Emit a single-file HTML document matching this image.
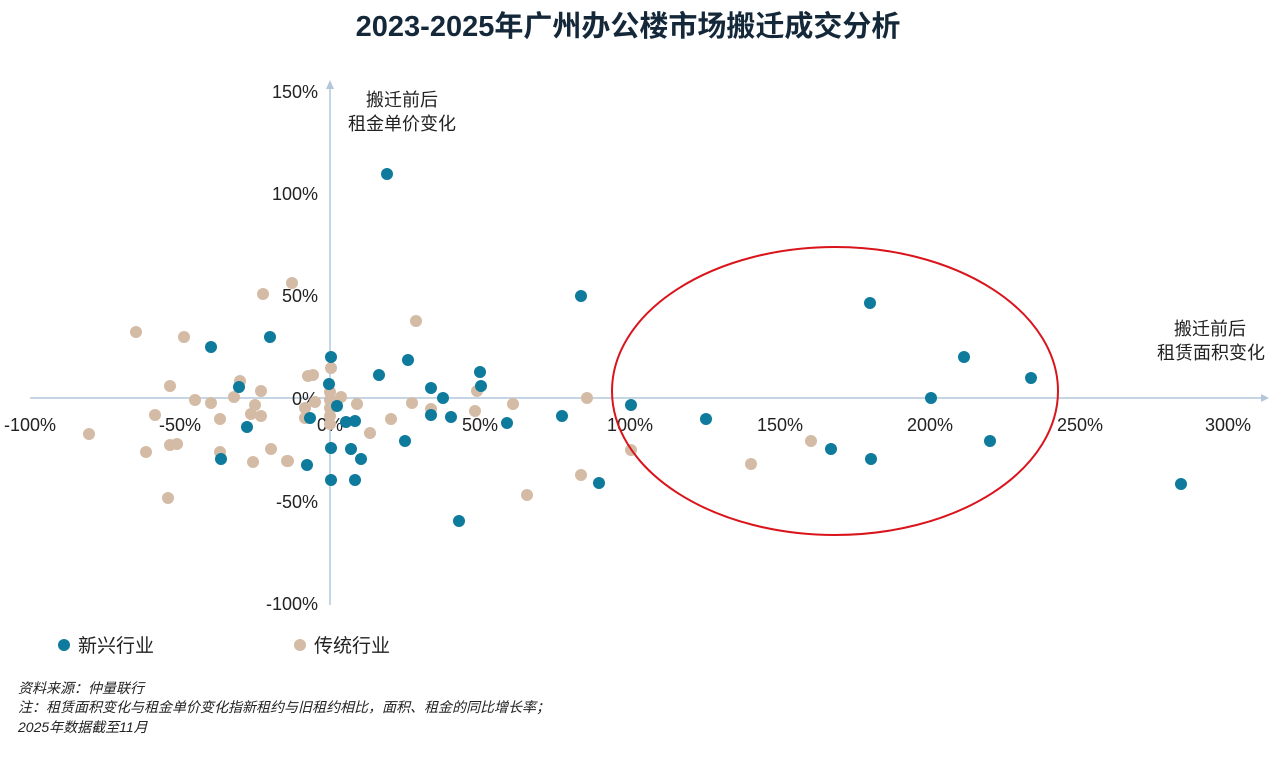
<!DOCTYPE html>
<html><head><meta charset="utf-8"><style>
body{margin:0;background:#fff;width:1269px;height:755px;overflow:hidden}
svg text{font-family:"Liberation Sans","Noto Sans CJK SC",sans-serif}
</style></head><body>
<svg width="1269" height="755" xmlns="http://www.w3.org/2000/svg">
<text x="628" y="36" text-anchor="middle" font-size="29" font-weight="bold" fill="#14283a">2023-2025年广州办公楼市场搬迁成交分析</text>
<line x1="30" y1="398" x2="1266" y2="398" stroke="#b4c7da" stroke-width="1.5"/>
<polygon points="1269,398 1261,394 1261,402" fill="#b4c7da"/>
<line x1="330" y1="86" x2="330" y2="605" stroke="#b4c7da" stroke-width="1.5"/>
<polygon points="330,80 326,89 334,89" fill="#b4c7da"/>
<g font-size="18" fill="#222" text-anchor="end">
<text x="318" y="98">150%</text><text x="318" y="200">100%</text><text x="318" y="302">50%</text><text x="318" y="405">0%</text><text x="318" y="508">-50%</text><text x="318" y="610">-100%</text>
</g>
<g font-size="18" fill="#222" text-anchor="middle">
<text x="30" y="431">-100%</text><text x="180" y="431">-50%</text><text x="330" y="431">0%</text><text x="480" y="431">50%</text><text x="630" y="431">100%</text><text x="780" y="431">150%</text><text x="930" y="431">200%</text><text x="1080" y="431">250%</text><text x="1228" y="431">300%</text>
</g>
<g font-size="18" fill="#222" text-anchor="middle">
<text x="402" y="106">搬迁前后</text><text x="402" y="130">租金单价变化</text>
</g>
<g font-size="18" fill="#222" text-anchor="end">
<text x="1246" y="335">搬迁前后</text><text x="1265" y="359">租赁面积变化</text>
</g>
<g fill="#d4bba6">
<circle cx="292" cy="283" r="6"/><circle cx="263" cy="294" r="6"/><circle cx="136" cy="332" r="6"/><circle cx="184" cy="337" r="6"/><circle cx="170" cy="386" r="6"/><circle cx="240" cy="381" r="6"/><circle cx="261" cy="391" r="6"/><circle cx="234" cy="397" r="6"/><circle cx="195" cy="400" r="6"/><circle cx="211" cy="403" r="6"/><circle cx="255" cy="405" r="6"/><circle cx="155" cy="415" r="6"/><circle cx="220" cy="419" r="6"/><circle cx="251" cy="414" r="6"/><circle cx="261" cy="416" r="6"/><circle cx="89" cy="434" r="6"/><circle cx="170" cy="445" r="6"/><circle cx="177" cy="444" r="6"/><circle cx="146" cy="452" r="6"/><circle cx="220" cy="452" r="6"/><circle cx="271" cy="449" r="6"/><circle cx="253" cy="462" r="6"/><circle cx="288" cy="461" r="6"/><circle cx="168" cy="498" r="6"/><circle cx="308" cy="376" r="6"/><circle cx="313" cy="375" r="6"/><circle cx="305" cy="408" r="6"/><circle cx="305" cy="418" r="6"/><circle cx="315" cy="402" r="6"/><circle cx="341" cy="397" r="6"/><circle cx="357" cy="404" r="6"/>
<circle cx="331" cy="368" r="6"/><circle cx="330" cy="392" r="6"/><circle cx="330" cy="400" r="6"/><circle cx="330" cy="408" r="6"/><circle cx="330" cy="416" r="6"/><circle cx="330" cy="424" r="6"/><circle cx="412" cy="403" r="6"/><circle cx="431" cy="409" r="6"/><circle cx="477" cy="391" r="6"/><circle cx="475" cy="411" r="6"/><circle cx="513" cy="404" r="6"/><circle cx="391" cy="419" r="6"/><circle cx="370" cy="433" r="6"/><circle cx="287" cy="461" r="6"/>
<circle cx="587" cy="398" r="6"/><circle cx="631" cy="450" r="6"/><circle cx="581" cy="475" r="6"/><circle cx="527" cy="495" r="6"/><circle cx="751" cy="464" r="6"/><circle cx="811" cy="441" r="6"/><circle cx="416" cy="321" r="6"/>
</g>
<g fill="#0e7a9c">
<circle cx="211" cy="347" r="6"/><circle cx="270" cy="337" r="6"/><circle cx="239" cy="387" r="6"/><circle cx="247" cy="427" r="6"/><circle cx="221" cy="459" r="6"/><circle cx="307" cy="465" r="6"/><circle cx="331" cy="357" r="6"/><circle cx="329" cy="384" r="6"/><circle cx="310" cy="418" r="6"/><circle cx="331" cy="448" r="6"/><circle cx="331" cy="480" r="6"/><circle cx="355" cy="480" r="6"/><circle cx="351" cy="449" r="6"/><circle cx="361" cy="459" r="6"/><circle cx="346" cy="422" r="6"/><circle cx="355" cy="421" r="6"/><circle cx="337" cy="406" r="6"/>
<circle cx="408" cy="360" r="6"/><circle cx="379" cy="375" r="6"/><circle cx="480" cy="372" r="6"/><circle cx="481" cy="386" r="6"/><circle cx="431" cy="388" r="6"/><circle cx="443" cy="398" r="6"/><circle cx="431" cy="415" r="6"/><circle cx="451" cy="417" r="6"/><circle cx="507" cy="423" r="6"/><circle cx="405" cy="441" r="6"/>
<circle cx="387" cy="174" r="6"/><circle cx="581" cy="296" r="6"/><circle cx="631" cy="405" r="6"/><circle cx="706" cy="419" r="6"/><circle cx="562" cy="416" r="6"/><circle cx="599" cy="483" r="6"/><circle cx="459" cy="521" r="6"/><circle cx="870" cy="303" r="6"/><circle cx="964" cy="357" r="6"/><circle cx="931" cy="398" r="6"/><circle cx="1031" cy="378" r="6"/><circle cx="990" cy="441" r="6"/><circle cx="871" cy="459" r="6"/><circle cx="831" cy="449" r="6"/><circle cx="1181" cy="484" r="6"/>
</g>
<ellipse cx="835" cy="391" rx="223" ry="144" fill="none" stroke="#d9141b" stroke-width="2"/>
<circle cx="64" cy="645" r="6" fill="#0e7a9c"/><text x="78" y="652" font-size="19" fill="#222">新兴行业</text>
<circle cx="300" cy="645" r="6" fill="#d4bba6"/><text x="314" y="652" font-size="19" fill="#222">传统行业</text>
<g font-size="14" font-style="italic" fill="#222">
<text x="18" y="693">资料来源：仲量联行</text>
<text x="18" y="712">注：租赁面积变化与租金单价变化指新租约与旧租约相比，面积、租金的同比增长率；</text>
<text x="18" y="732">2025年数据截至11月</text>
</g>
</svg>
</body></html>
